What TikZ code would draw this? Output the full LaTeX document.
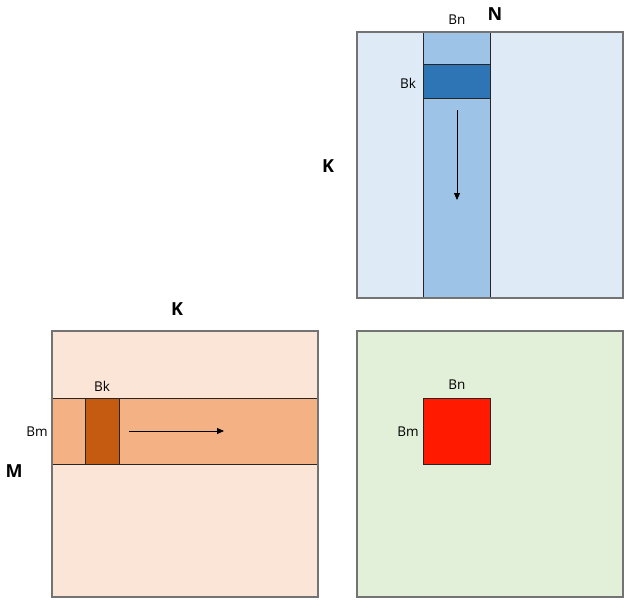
\documentclass[tikz,border=0pt]{standalone}
\usepackage{fontspec}
\setmainfont{Open Sans}
\usetikzlibrary{arrows.meta}
\definecolor{bl}{HTML}{DEEBF7}
\definecolor{bb}{HTML}{9DC3E6}
\definecolor{bd}{HTML}{2E75B6}
\definecolor{al}{HTML}{FBE5D6}
\definecolor{ab}{HTML}{F4B183}
\definecolor{ad}{HTML}{C55A11}
\definecolor{cl}{HTML}{E2F0D9}
\definecolor{cr}{HTML}{FF1A00}
\tikzset{
  outer/.style={draw=gray!90!black, line width=1.2pt},
  inner/.style={draw=black!85, line width=1pt},
  lab/.style={font=\fontsize{13.5}{15}\selectfont, inner sep=0pt},
  big/.style={font=\fontsize{18}{20}\selectfont\bfseries, inner sep=0pt},
  arr/.style={-{Triangle[length=7pt,width=6pt]}, line width=0.9pt}
}
\begin{document}
\begin{tikzpicture}[x=1pt,y=-1pt]
\useasboundingbox (0,0) rectangle (634,610);
% B matrix
\path[outer, fill=bl] (357,32) rectangle (623,298);
\path[inner, fill=bb] (423,32) rectangle (490,298);
\path[inner, fill=bd] (423,65) rectangle (490,98);
\draw[outer, fill=none] (357,32) rectangle (623,298);
% A matrix
\path[outer, fill=al] (52,331) rectangle (318,597);
\path[inner, fill=ab] (52,398) rectangle (318,464);
\path[inner, fill=ad] (85,398) rectangle (119,464);
\draw[outer, fill=none] (52,331) rectangle (318,597);
% C matrix
\path[outer, fill=cl] (357,331) rectangle (623,597);
\path[inner, fill=cr] (423,398) rectangle (490,464);
% arrows
\coordinate (b1) at (457,110); \coordinate (b2) at (457,200);
\coordinate (a1) at (129,431); \coordinate (a2) at (224,431);
\draw[arr] (b1) -- (b2);
\draw[arr] (a1) -- (a2);
% labels
\node[lab] (bn1) at (457,20) {Bn};
\node[big] (n) at (495,14) {N};
\node[lab] (bk1) at (408,83) {Bk};
\node[big] (k1) at (328,166) {K};
\node[big] (k2) at (177,309) {K};
\node[lab] (bk2) at (102,386) {Bk};
\node[lab] (bm1) at (37,432) {Bm};
\node[big] (m) at (14,471) {M};
\node[lab] (bn2) at (457,385) {Bn};
\node[lab] (bm2) at (408,432) {Bm};
\end{tikzpicture}
\end{document}
